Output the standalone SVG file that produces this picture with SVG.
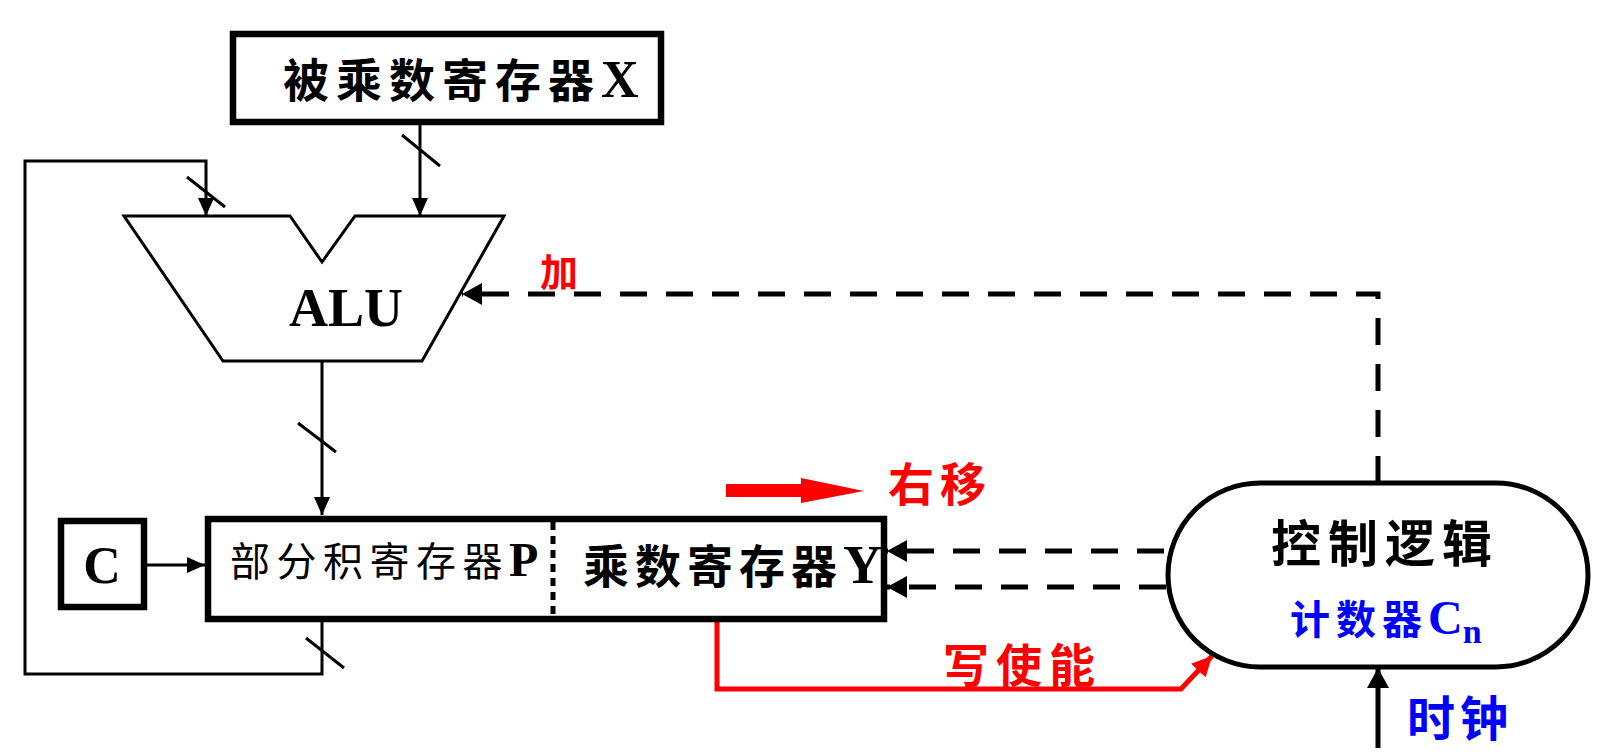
<svg xmlns="http://www.w3.org/2000/svg" width="1600" height="756" viewBox="0 0 1600 756">
<defs>
<style>
.thin{fill:none;stroke:#000;stroke-width:3}
.box{fill:#fff;stroke:#000;stroke-width:6.5}
.dash{fill:none;stroke:#000;stroke-width:5;stroke-dasharray:27 19}
.cjk{font-family:"Noto Sans CJK SC","Noto Sans CJK TC",sans-serif}
.lat{font-family:"Liberation Serif",serif}
.b{font-weight:bold}
.red{fill:#ff0000}
.blue{fill:#0000ff}
</style>
<marker id="arr" markerUnits="userSpaceOnUse" markerWidth="18" markerHeight="16" refX="18" refY="8" orient="auto"><path d="M0,0 L18,8 L0,16 z" fill="#000"/></marker>
<marker id="arrB" markerUnits="userSpaceOnUse" markerWidth="20" markerHeight="22" refX="20" refY="11" orient="auto"><path d="M0,0 L20,11 L0,22 z" fill="#000"/></marker>
<marker id="arrR" markerUnits="userSpaceOnUse" markerWidth="20" markerHeight="20" refX="20" refY="10" orient="auto"><path d="M0,0 L20,10 L0,20 z" fill="#ff0000"/></marker>
</defs>
<rect width="1600" height="756" fill="#fff"/>

<g id="connectors">
<line class="thin" x1="420" y1="123" x2="420" y2="216" marker-end="url(#arr)"/>
<line class="thin" x1="402" y1="135" x2="440" y2="166"/>
<polyline class="thin" points="322,621 322,674 25,674 25,161 206,161 206,216" marker-end="url(#arr)"/>
<line class="thin" x1="187" y1="177" x2="225" y2="207"/>
<line class="thin" x1="306" y1="638" x2="344" y2="668"/>
<line class="thin" x1="322" y1="361" x2="322" y2="515" marker-end="url(#arr)"/>
<line class="thin" x1="298" y1="423" x2="336" y2="452"/>
<line class="thin" x1="147" y1="565" x2="205" y2="565" marker-end="url(#arr)"/>
<polyline class="dash" points="1378,483 1378,294 462,294" marker-end="url(#arrB)"/>
<line class="dash" x1="1164" y1="551" x2="887" y2="551" marker-end="url(#arrB)"/>
<line class="dash" x1="1166" y1="587" x2="887" y2="587" marker-end="url(#arrB)"/>
<polyline points="717,621 717,689 1181,689 1212,656" fill="none" stroke="#ff0000" stroke-width="5" marker-end="url(#arrR)"/>
<line x1="1378" y1="748" x2="1378" y2="668" stroke="#000" stroke-width="5" marker-end="url(#arrB)"/>
<polygon points="726,484 801,484 801,478 864,491 801,503 801,497 726,497" fill="#ff0000"/>
</g>

<g id="regX">
<rect class="box" x="233" y="34" width="428" height="88"/>
<text x="283" y="97" font-size="46" letter-spacing="7" class="cjk b">被乘数寄存器<tspan class="lat" font-size="52" letter-spacing="0">X</tspan></text>
</g>

<g id="alu">
<polygon points="124,216 290,216 322,262 355,216 504,216 422,361 223,361" fill="#fff" stroke="#000" stroke-width="3"/>
<text x="346" y="326" font-size="54" text-anchor="middle" class="lat b">ALU</text>
</g>

<g id="regC">
<rect class="box" x="61" y="521" width="83" height="86"/>
<text x="102" y="583" font-size="52" text-anchor="middle" class="lat b">C</text>
</g>

<g id="regPY">
<rect class="box" x="208" y="519" width="676" height="100"/>
<line x1="553" y1="522" x2="553" y2="616" stroke="#000" stroke-width="5" stroke-dasharray="8 6"/>
<text x="230" y="576" font-size="40" letter-spacing="6.5" class="cjk">部分积寄存器<tspan class="lat b" font-size="48" letter-spacing="0">P</tspan></text>
<text x="583" y="583" font-size="46" letter-spacing="6" class="cjk b">乘数寄存器<tspan class="lat b" font-size="54" letter-spacing="0">Y</tspan></text>
</g>

<g id="control">
<rect x="1168" y="483" width="420" height="184" rx="92" ry="92" fill="#fff" stroke="#000" stroke-width="5"/>
<text x="1271" y="562" font-size="50" letter-spacing="7" class="cjk b">控制逻辑</text>
<text x="1290" y="634" font-size="40" letter-spacing="6" class="cjk b blue">计数器<tspan class="lat" font-size="48" letter-spacing="0">C</tspan><tspan class="lat" font-size="34" letter-spacing="0" dy="9">n</tspan></text>
</g>

<g id="labels">
<text x="540" y="286" font-size="38" class="cjk b red">加</text>
<text x="888" y="501" font-size="46" letter-spacing="6" class="cjk b red">右移</text>
<text x="943" y="682" font-size="46" letter-spacing="7" class="cjk b red">写使能</text>
<text x="1407" y="736" font-size="48" letter-spacing="5" class="cjk b blue">时钟</text>
</g>
</svg>
